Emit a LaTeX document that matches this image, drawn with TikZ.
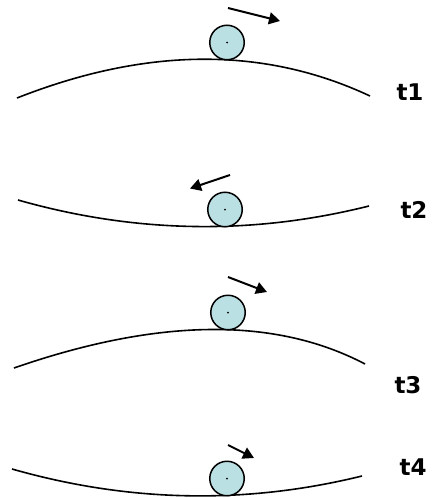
\documentclass[tikz,border=0pt]{standalone}
\usepackage{fontspec}
\setmainfont{DejaVu Sans}
\usetikzlibrary{arrows.meta}
\definecolor{ballfill}{RGB}{187,224,228}
\tikzset{
  track/.style={line width=1.6pt, black},
  ball/.style={circle, draw=black, line width=1.5pt, fill=ballfill, minimum size=34.5pt, inner sep=0pt},
  hub/.style={circle, fill=black, minimum size=2pt, inner sep=0pt},
  motion/.style={line width=2pt, -{Triangle[length=11pt,width=12pt]}},
  tlabel/.style={font=\bfseries\fontsize{23}{23}\selectfont, inner sep=0pt}
}
\begin{document}
\begin{tikzpicture}[x=1pt,y=-1pt]
\useasboundingbox (0,0) rectangle (440,498);
% panel 1
\coordinate (a1) at (17,98); \coordinate (b1) at (370,96);
\draw[track] (a1) .. controls (146.3,47) and (264,46.3) .. (b1);
\node[ball] (ball1) at (227,42.5) {};
\node[hub] at (ball1.center) {};
\coordinate (s1) at (228,8); \coordinate (e1) at (280,21);
\draw[motion] (s1) -- (e1);
\node[tlabel] (t1) at (410,92) {t1};
% panel 2
\coordinate (a2) at (18,200); \coordinate (b2) at (369,206);
\draw[track] (a2) .. controls (135,233.3) and (252,235.3) .. (b2);
\node[ball] (ball2) at (225,209.5) {};
\node[hub] at (ball2.center) {};
\coordinate (s2) at (230,175); \coordinate (e2) at (190,188.5);
\draw[motion] (s2) -- (e2);
\node[tlabel] (t2) at (414,210) {t2};
% panel 3
\coordinate (a3) at (14,368); \coordinate (b3) at (365,364);
\draw[track] (a3) .. controls (158,318) and (275,316.7) .. (b3);
\node[ball] (ball3) at (228,312.5) {};
\node[hub] at (ball3.center) {};
\coordinate (s3) at (228,277); \coordinate (e3) at (267,292);
\draw[motion] (s3) -- (e3);
\node[tlabel] (t3) at (408,385) {t3};
% panel 4
\coordinate (a4) at (12,469); \coordinate (b4) at (362,476);
\draw[track] (a4) .. controls (128.7,502.3) and (245.3,504.7) .. (b4);
\node[ball] (ball4) at (227,478.5) {};
\node[hub] at (ball4.center) {};
\coordinate (s4) at (228,445); \coordinate (e4) at (254,458);
\draw[motion] (s4) -- (e4);
\node[tlabel] (t4) at (413,467) {t4};
\end{tikzpicture}
\end{document}
